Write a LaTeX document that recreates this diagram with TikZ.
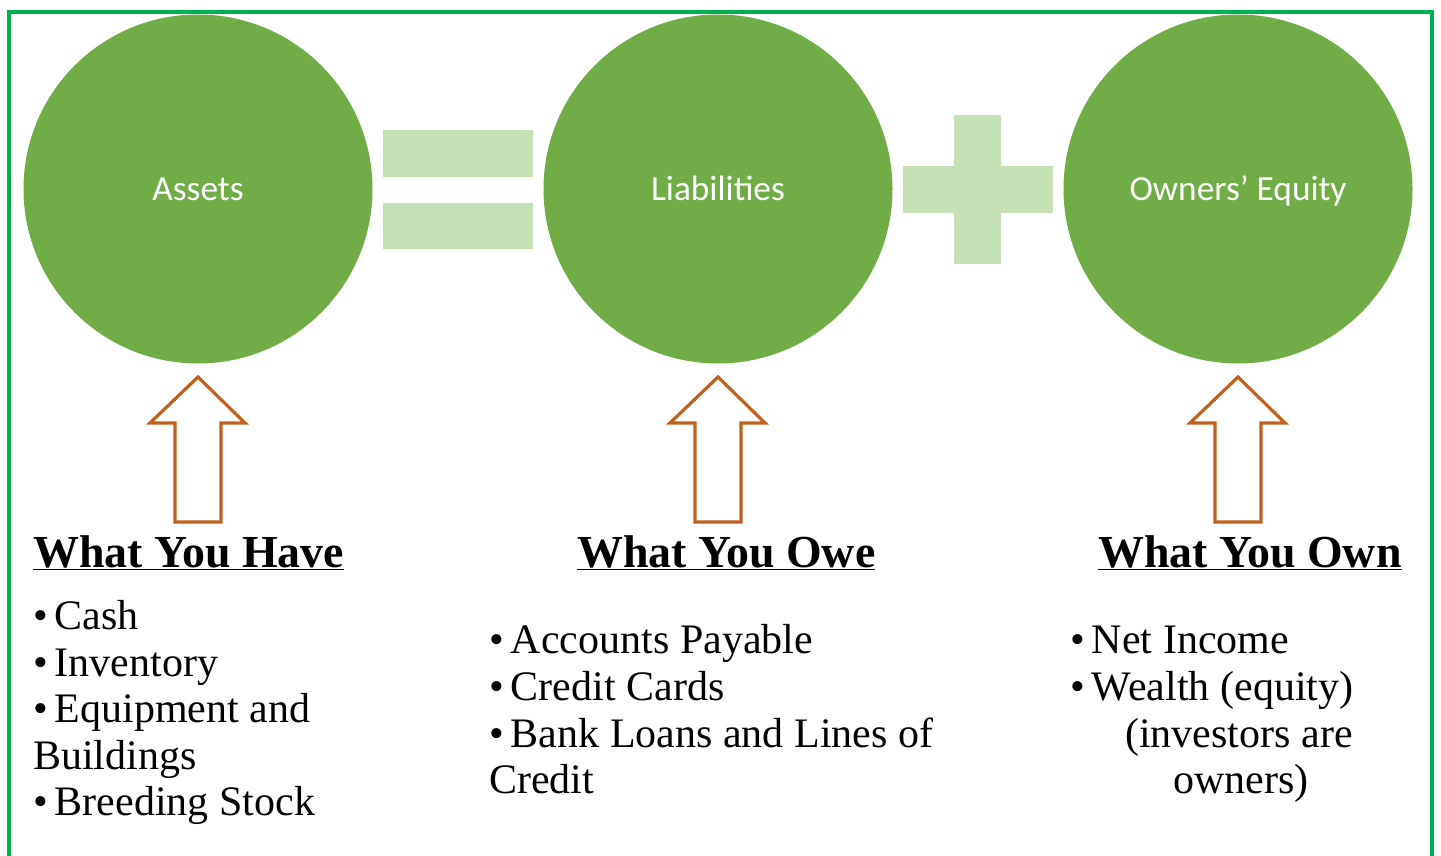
\documentclass[tikz,border=0pt]{standalone}
\usepackage{fontspec}
\setmainfont{Liberation Serif}
\newfontfamily\labelfont{Carlito}
\begin{document}
\begin{tikzpicture}[x=0.75pt,y=-0.75pt,
  bigcircle/.style={circle,fill=circgreen,draw=none,minimum size=261.75pt,inner sep=0pt,
    text=white,text height=16.5pt,text depth=0pt,
    font=\labelfont\fontsize{26.5pt}{30pt}\selectfont},
  opbar/.style={fill=opgreen,draw=none},
  uparrow/.style={draw=arrowbrown,line width=2.4pt,fill=white,line join=miter},
  heading/.style={anchor=base west,inner sep=0pt,font=\bfseries\fontsize{34.4pt}{40pt}\selectfont},
  item/.style={anchor=base west,inner sep=0pt,font=\fontsize{31.5pt}{35pt}\selectfont}]
\definecolor{circgreen}{HTML}{70AD47}
\definecolor{opgreen}{HTML}{C5E0B4}
\definecolor{framegreen}{HTML}{00B050}
\definecolor{arrowbrown}{HTML}{C0611F}
\useasboundingbox (0,0) rectangle (1441,856);
\clip (0,0) rectangle (1441,856);
\fill[white] (0,0) rectangle (1441,856);
% outer frame (continues below the visible area)
\draw[framegreen,line width=3pt] (9,12.5) rectangle (1432,900);

% the three terms of the accounting equation
\node[bigcircle] (assets) at (198,189) {Assets};
\node[bigcircle] (liab) at (718,189) {Liabilities};
\node[bigcircle] (equity) at (1238,189) {Owners’ Equity};

% equals sign
\fill[opbar] (383,130) rectangle (533,177);
\fill[opbar] (383,203) rectangle (533,249);
% plus sign
\fill[opbar] (903,166) rectangle (1053,213);
\fill[opbar] (954,115) rectangle (1001,264);

% block arrows pointing up to each circle
\foreach \cx in {198,718,1238}{
  \draw[uparrow] (\cx,377) -- (\cx+47,423) -- (\cx+23,423) -- (\cx+23,522)
    -- (\cx-23,522) -- (\cx-23,423) -- (\cx-48,423) -- cycle;
}

% headings
\node[heading] (hhave) at (33,567) {\underline{What You Have}};
\node[heading] (howe) at (577,567) {\underline{What You Owe}};
\node[heading] (hown) at (1098,567) {\underline{What You Own}};

% what you have
\node[item] (a1) at (33,629) {•\,Cash};
\node[item] (a2) at (33,676) {•\,Inventory};
\node[item] (a3) at (33,722) {•\,Equipment and};
\node[item] (a4) at (33,769) {Buildings};
\node[item] (a5) at (33,815) {•\,Breeding Stock};

% what you owe
\node[item] (b1) at (489,653) {•\,Accounts Payable};
\node[item] (b2) at (489,700) {•\,Credit Cards};
\node[item] (b3) at (489,747) {•\,Bank Loans and Lines of};
\node[item] (b4) at (489,793) {Credit};

% what you own
\node[item] (c1) at (1070,653) {•\,Net Income};
\node[item] (c2) at (1070,700) {•\,Wealth (equity)};
\node[item] (c3) at (1125,747) {(investors are};
\node[item] (c4) at (1173,793) {owners)};
\end{tikzpicture}
\end{document}
